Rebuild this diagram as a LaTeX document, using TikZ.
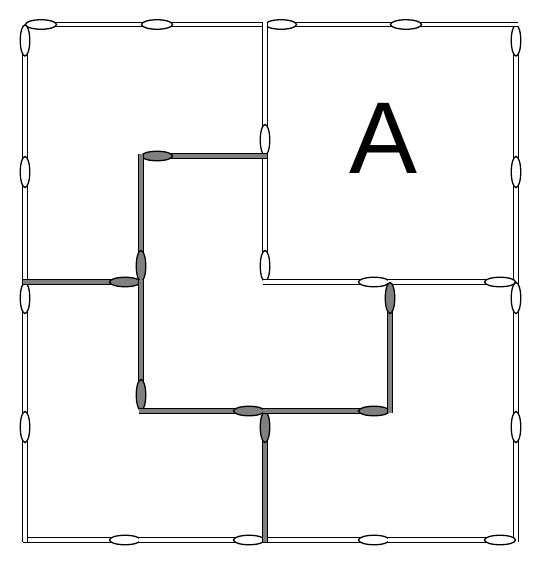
\documentclass[tikz,border=0pt]{standalone}
\usepackage{fontspec}
\setmainfont{Liberation Sans}
\usetikzlibrary{calc,shapes.geometric}

\tikzset{
  stick/.style={line width=1.3pt, double distance=3.2pt},
  head/.style={ellipse, draw, line width=1.3pt, inner sep=0pt, minimum width=31pt, minimum height=9.5pt}
}
% one match, head at #1, lying towards #2, filled with #3
\newcommand{\matchstick}[3]{%
  \draw[stick, double=#3] ($(#1)!16pt!(#2)$) -- ($(#2)!-2pt!(#1)$);
  \path ($(#1)!16pt!(#2)$) -- (#2) node[head, fill=#3, pos=0, sloped] {};
}

\begin{document}
\begin{tikzpicture}[x=1pt, y=-1pt]
  \useasboundingbox (0,0) rectangle (541,567);
  \foreach \x [count=\i from 0] in {25,141,265,390,516}
    \foreach \y [count=\j from 0] in {24.5,156,282,411,540}
      \coordinate (p-\i-\j) at (\x,\y);

  % outer frame
  \foreach \i [evaluate=\i as \k using int(\i+1)] in {0,...,3} {
    \matchstick{p-\i-0}{p-\k-0}{white}
    \matchstick{p-0-\i}{p-0-\k}{white}
    \matchstick{p-4-\i}{p-4-\k}{white}
    \matchstick{p-\k-4}{p-\i-4}{white}
  }

  % inside, white
  \matchstick{p-2-1}{p-2-0}{white}
  \matchstick{p-2-2}{p-2-1}{white}
  \matchstick{p-3-2}{p-2-2}{white}
  \matchstick{p-4-2}{p-3-2}{white}

  % inside, grey
  \matchstick{p-1-1}{p-2-1}{gray}
  \matchstick{p-1-2}{p-1-1}{gray}
  \matchstick{p-1-2}{p-0-2}{gray}
  \matchstick{p-1-3}{p-1-2}{gray}
  \matchstick{p-2-3}{p-1-3}{gray}
  \matchstick{p-2-3}{p-2-4}{gray}
  \matchstick{p-3-3}{p-2-3}{gray}
  \matchstick{p-3-2}{p-3-3}{gray}

  \node[inner sep=0pt] (A) at (383.5,138) {\fontsize{102pt}{102pt}\selectfont A};
\end{tikzpicture}
\end{document}
